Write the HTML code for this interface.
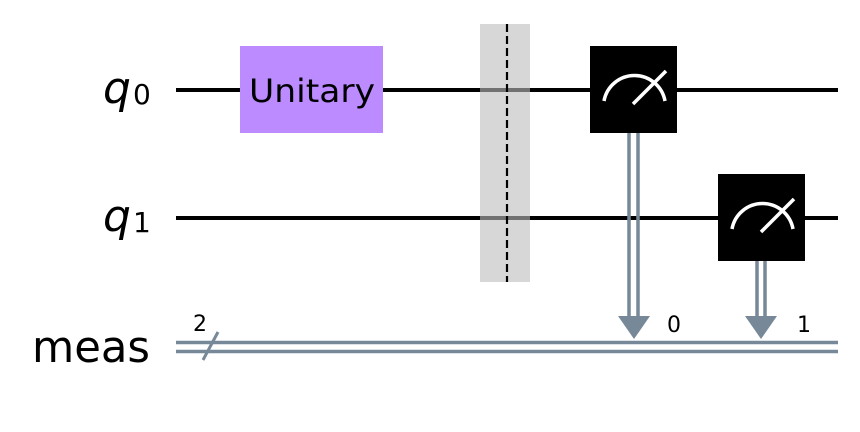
<!DOCTYPE html>
<html><head><meta charset="utf-8"><style>
html,body{margin:0;padding:0;background:#fff;}
svg{display:block;}
</style></head><body>
<svg width="860" height="432" viewBox="0 0 860 432" xmlns="http://www.w3.org/2000/svg" font-family="'DejaVu Sans','Liberation Sans',sans-serif">
<rect width="860" height="432" fill="#fff"/>
<line x1="176" y1="90" x2="838" y2="90" stroke="#000" stroke-width="4"/>
<line x1="176" y1="218" x2="838" y2="218" stroke="#000" stroke-width="4"/>
<line x1="176" y1="342.5" x2="838" y2="342.5" stroke="#778899" stroke-width="3.5"/>
<line x1="176" y1="351.5" x2="838" y2="351.5" stroke="#778899" stroke-width="3.5"/>
<line x1="203" y1="360" x2="218" y2="332" stroke="#778899" stroke-width="3"/>
<text x="200" y="331" font-size="22" fill="#000" text-anchor="middle">2</text>
<text x="103" y="103" font-size="44" font-style="italic" fill="#000">q</text>
<text x="133" y="104" font-size="28" fill="#000">0</text>
<text x="103" y="231" font-size="44" font-style="italic" fill="#000">q</text>
<text x="133" y="232" font-size="28" fill="#000">1</text>
<text x="32" y="362" font-size="44" fill="#000" textLength="118" lengthAdjust="spacingAndGlyphs">meas</text>
<rect x="240" y="46" width="143" height="87" fill="#bb8bff"/>
<text x="249" y="102" font-size="32" fill="#000" textLength="126" lengthAdjust="spacingAndGlyphs">Unitary</text>
<rect x="480" y="24" width="50" height="258" fill="#bdbdbd" fill-opacity="0.6"/>
<line x1="507" y1="24" x2="507" y2="282" stroke="#000" stroke-width="2.2" stroke-dasharray="8,4"/>
<line x1="629" y1="133" x2="629" y2="318" stroke="#778899" stroke-width="3.5"/>
<line x1="638" y1="133" x2="638" y2="318" stroke="#778899" stroke-width="3.5"/>
<polygon points="618,316 650,316 634,339" fill="#778899"/>
<rect x="590" y="46" width="87" height="87" fill="#000"/>
<path d="M604,101 A31,31 0 0,1 665,101" fill="none" stroke="#fff" stroke-width="3.5"/>
<line x1="633" y1="104" x2="666" y2="71" stroke="#fff" stroke-width="3.5"/>
<text x="667" y="332" font-size="22" fill="#000">0</text>
<line x1="757" y1="261" x2="757" y2="318" stroke="#778899" stroke-width="3.5"/>
<line x1="765" y1="261" x2="765" y2="318" stroke="#778899" stroke-width="3.5"/>
<polygon points="745,316 777,316 761,339" fill="#778899"/>
<rect x="718" y="174" width="87" height="87" fill="#000"/>
<path d="M732,229 A31,31 0 0,1 793,229" fill="none" stroke="#fff" stroke-width="3.5"/>
<line x1="761" y1="232" x2="794" y2="199" stroke="#fff" stroke-width="3.5"/>
<text x="797" y="332" font-size="22" fill="#000">1</text>
</svg>
</body></html>
